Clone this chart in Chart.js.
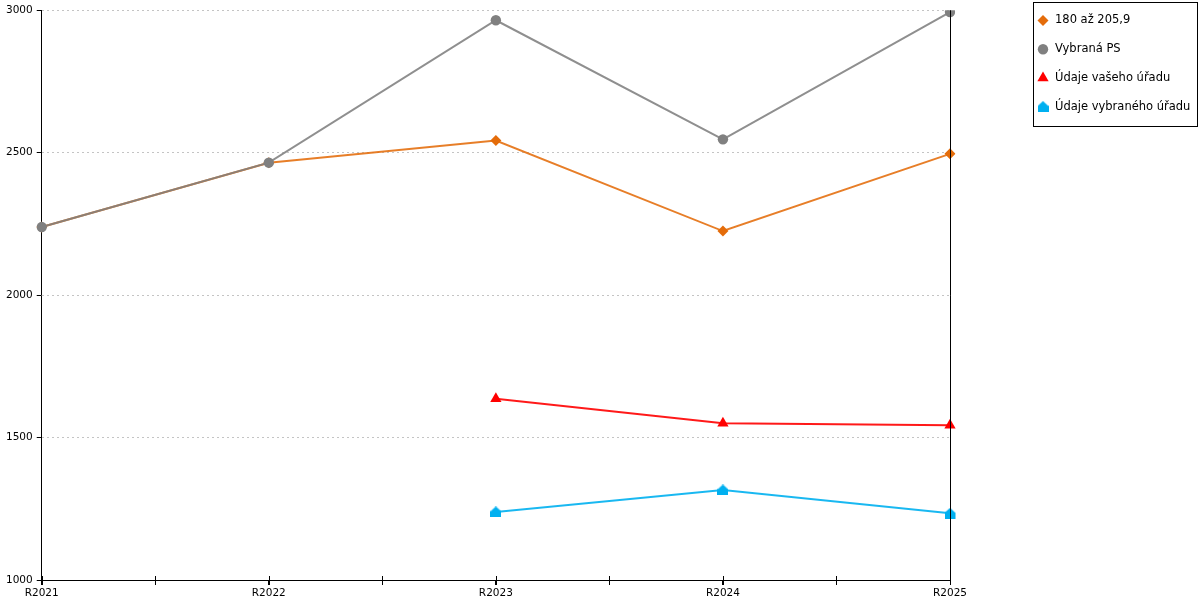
<!DOCTYPE html>
<html>
<head>
<meta charset="utf-8">
<script src="https://cdn.jsdelivr.net/npm/chart.js@4/dist/chart.umd.min.js"></script>
<style>
  body { margin: 0; background: #fff; }
  #wrap { width: 1200px; height: 600px; }
</style>
</head>
<body>
<div id="wrap"><canvas id="graf"></canvas></div>
<script>
// Kategorie a hodnoty
var roky = ["R2021", "R2022", "R2023", "R2024", "R2025"];
var pasmo = [2239, 2465, 2543, 2225, 2496];          // 180 až 205,9
var vybranaPS = [2239, 2465, 2965, 2547, 2994];      // Vybraná PS
var vasUrad = [null, null, 1636, 1550, 1543];        // Údaje vašeho úřadu
var vybranyUrad = [null, null, 1239, 1316, 1234];    // Údaje vybraného úřadu
var osaY = [1000, 1500, 2000, 2500, 3000];

// "domecek" pro posledni serii
function domecek(barva) {
    var c = document.createElement('canvas');
    c.width = 11; c.height = 11;
    var g = c.getContext('2d');
    g.fillStyle = barva;
    g.beginPath();
    g.moveTo(5.5, 0);
    g.lineTo(11, 5);
    g.lineTo(11, 11);
    g.lineTo(0, 11);
    g.lineTo(0, 5);
    g.closePath();
    g.fill();
    return c;
}
var znackaModra = domecek('#00B0F0');

function znacka(ctx, styl, x, y, r, barva) {
    ctx.save();
    ctx.fillStyle = barva;
    ctx.beginPath();
    if (styl === 'circle') {
        ctx.arc(x, y, r, 0, Math.PI * 2);
    } else if (styl === 'rectRot') {
        ctx.moveTo(x, y - r); ctx.lineTo(x + r, y); ctx.lineTo(x, y + r); ctx.lineTo(x - r, y);
    } else if (styl === 'triangle') {
        ctx.moveTo(x, y - r); ctx.lineTo(x + r * 0.866, y + r * 0.5); ctx.lineTo(x - r * 0.866, y + r * 0.5);
    } else {
        ctx.drawImage(styl, x - styl.width / 2, y - styl.height / 2);
    }
    ctx.closePath();
    ctx.fill();
    ctx.restore();
}

// legenda s rameckem, osa vpravo a vedlejsi znacky na ose X
var doplnky = {
    id: 'doplnky',
    afterDraw: function (chart) {
        var ctx = chart.ctx;
        var a = chart.chartArea;
        var sx = chart.scales.x;

        ctx.save();
        ctx.strokeStyle = '#000';
        ctx.lineWidth = 1;
        // prava svisla cara
        ctx.beginPath();
        ctx.moveTo(Math.round(a.right) + 0.5, a.top);
        ctx.lineTo(Math.round(a.right) + 0.5, a.bottom);
        ctx.stroke();
        // znacky na ose X (prekrizene)
        for (var i = 0; i < roky.length; i++) {
            var px = Math.round(sx.getPixelForValue(i)) + 0.5;
            ctx.beginPath();
            ctx.moveTo(px, a.bottom - 4);
            ctx.lineTo(px, a.bottom + 5);
            ctx.stroke();
            if (i < roky.length - 1) {
                var pm = Math.round((sx.getPixelForValue(i) + sx.getPixelForValue(i + 1)) / 2) + 0.5;
                ctx.beginPath();
                ctx.moveTo(pm, a.bottom - 4);
                ctx.lineTo(pm, a.bottom + 5);
                ctx.stroke();
            }
        }

        // legenda
        ctx.strokeRect(1033.5, 2.5, 164, 124);
        ctx.font = '11.5px "DejaVu Sans"';
        ctx.textBaseline = 'middle';
        ctx.textAlign = 'left';
        chart.data.datasets.forEach(function (ds, k) {
            var y = 20.5 + k * 28.7;
            znacka(ctx, ds.pointStyle, 1043, y, ds.pointRadius, ds.pointBackgroundColor);
            ctx.fillStyle = '#000';
            ctx.fillText(ds.label, 1055, y);
        });
        ctx.restore();
    }
};

var ctx = document.getElementById('graf').getContext('2d');
new Chart(ctx, {
    type: 'line',
    data: {
        labels: roky,
        datasets: [
            {
                label: '180 až 205,9',
                data: pasmo,
                borderColor: 'rgba(228,108,10,0.88)',
                pointBackgroundColor: '#E46C0A',
                pointBorderWidth: 0,
                pointStyle: 'rectRot',
                pointRadius: 5.5,
                borderWidth: 2,
                order: 1
            },
            {
                label: 'Vybraná PS',
                data: vybranaPS,
                borderColor: 'rgba(128,128,128,0.88)',
                pointBackgroundColor: '#808080',
                pointBorderWidth: 0,
                pointStyle: 'circle',
                pointRadius: 5.2,
                borderWidth: 2
            },
            {
                label: 'Údaje vašeho úřadu',
                data: vasUrad,
                borderColor: 'rgba(255,0,0,0.9)',
                pointBackgroundColor: '#FF0000',
                pointBorderWidth: 0,
                pointStyle: 'triangle',
                pointRadius: 6.5,
                borderWidth: 2
            },
            {
                label: 'Údaje vybraného úřadu',
                data: vybranyUrad,
                borderColor: 'rgba(0,176,240,0.9)',
                pointBackgroundColor: '#00B0F0',
                pointBorderWidth: 0,
                pointStyle: znackaModra,
                pointRadius: 5.5,
                borderWidth: 2
            }
        ]
    },
    options: {
        responsive: true,
        maintainAspectRatio: false,
        animation: false,
        events: [],
        layout: { padding: { left: 2, top: 10, right: 250, bottom: 0 } },
        plugins: {
            legend: { display: false },
            tooltip: { enabled: false }
        },
        scales: {
            x: {
                offset: false,
                afterFit: function (s) { s.height = 20; },
                grid: { display: true, drawOnChartArea: false, tickLength: 5, tickColor: '#000' },
                border: { color: '#000', width: 1 },
                ticks: { color: '#000', padding: 2, maxRotation: 0, font: { family: 'DejaVu Sans', size: 10.5 } }
            },
            y: {
                min: osaY[0],
                max: osaY[osaY.length - 1],
                afterBuildTicks: function (s) {
                    s.ticks = osaY.map(function (v) { return { value: v }; });
                },
                grid: { color: '#c4c4c4', tickColor: '#000', tickLength: 5, lineWidth: 1 },
                border: { color: '#000', width: 1, dash: [2, 3] },
                ticks: {
                    color: '#000', padding: 4, font: { family: 'DejaVu Sans', size: 10.5 },
                    callback: function (v) { return String(v); }
                }
            }
        }
    },
    plugins: [doplnky]
});
</script>
</body>
</html>
